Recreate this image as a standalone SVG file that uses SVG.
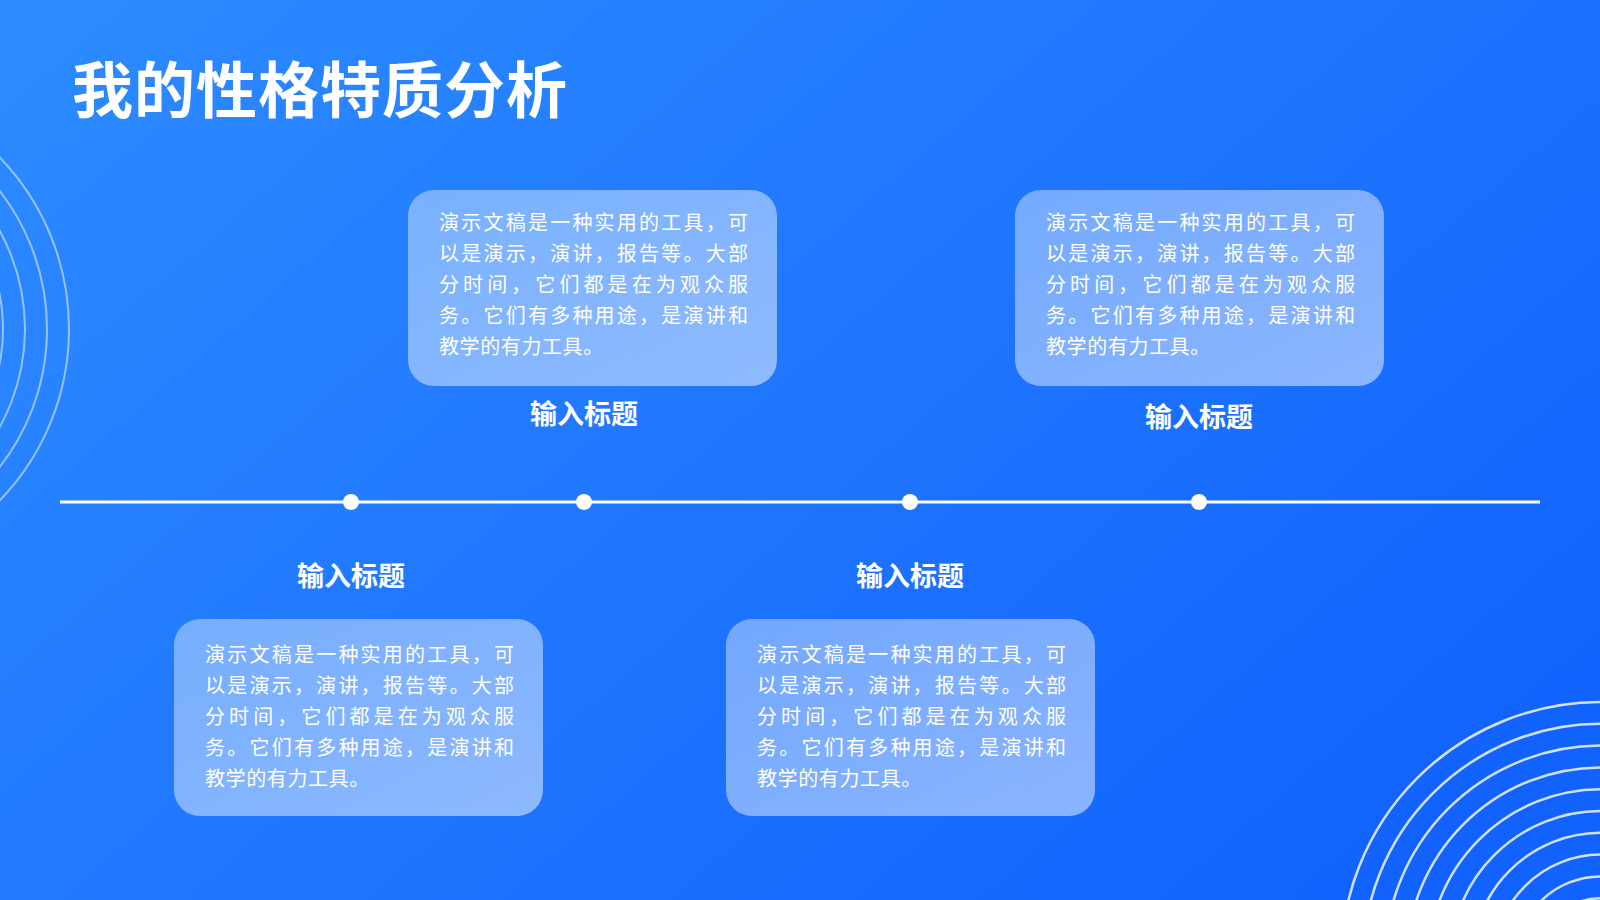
<svg xmlns="http://www.w3.org/2000/svg" width="1600" height="900" viewBox="0 0 1600 900">
  <defs>
    <linearGradient id="bg" x1="0" y1="0.1" x2="1" y2="0.75">
      <stop offset="0" stop-color="#2c8aff"/>
      <stop offset="1" stop-color="#1263fd"/>
    </linearGradient>
    <linearGradient id="card" x1="0" y1="0" x2="1" y2="1">
      <stop offset="0" stop-color="#ffffff" stop-opacity="0.38"/>
      <stop offset="1" stop-color="#ffffff" stop-opacity="0.5"/>
    </linearGradient>
  </defs>
  <style>
    .card { fill: url(#card); }
    .body { font-family: "Noto Sans CJK SC", "Noto Sans", sans-serif; font-size: 20px; fill: #ffffff; }
    .label { font-family: "Noto Sans CJK SC", "Noto Sans", sans-serif; font-size: 27px; font-weight: 700; fill: #ffffff; text-anchor: middle; }
    .title { font-family: "Noto Sans CJK SC", "Noto Sans", sans-serif; font-size: 61px; font-weight: 700; fill: #ffffff; letter-spacing: 1px; }
    .dot { fill: #ffffff; }
    .arcL { fill: none; stroke: #ffffff; stroke-opacity: 0.5; stroke-width: 2; }
    .arcR { fill: none; stroke: #ffffff; stroke-opacity: 0.8; stroke-width: 2.5; }
    .timeline { stroke: #ffffff; stroke-width: 3; }
  </style>

  <rect x="0" y="0" width="1600" height="900" fill="url(#bg)"/>

  <g id="decor-left">
    <circle class="arcL" cx="-178" cy="329" r="247"/>
    <circle class="arcL" cx="-178" cy="329" r="225"/>
    <circle class="arcL" cx="-178" cy="329" r="203"/>
    <circle class="arcL" cx="-178" cy="329" r="181"/>
  </g>

  <g id="decor-right">
    <circle class="arcR" cx="1601" cy="962" r="260"/>
    <circle class="arcR" cx="1601" cy="962" r="238.2"/>
    <circle class="arcR" cx="1601" cy="962" r="216.4"/>
    <circle class="arcR" cx="1601" cy="962" r="194.6"/>
    <circle class="arcR" cx="1601" cy="962" r="172.8"/>
    <circle class="arcR" cx="1601" cy="962" r="151"/>
    <circle class="arcR" cx="1601" cy="962" r="129.2"/>
    <circle class="arcR" cx="1601" cy="962" r="107.4"/>
    <circle class="arcR" cx="1601" cy="962" r="85.6"/>
    <circle class="arcR" cx="1601" cy="962" r="63.8"/>
  </g>

  <text id="title" class="title" x="72" y="113">我的性格特质分析</text>

  <g id="connectors">
    <line class="timeline" x1="60" y1="502" x2="1540" y2="502"/>
  </g>

  <g id="node-1">
    <circle class="dot" cx="351" cy="502" r="8"/>
    <text class="label" x="351" y="586">输入标题</text>
    <rect class="card" x="174" y="619" width="369" height="197" rx="26"/>
    <text class="body" x="205" y="662" textLength="309" lengthAdjust="spacing">演示文稿是一种实用的工具，可</text>
    <text class="body" x="205" y="693" textLength="309" lengthAdjust="spacing">以是演示，演讲，报告等。大部</text>
    <text class="body" x="205" y="724" textLength="309" lengthAdjust="spacing">分时间，它们都是在为观众服</text>
    <text class="body" x="205" y="755" textLength="309" lengthAdjust="spacing">务。它们有多种用途，是演讲和</text>
    <text class="body" x="205" y="786" letter-spacing="0.6">教学的有力工具。</text>
  </g>

  <g id="node-2">
    <circle class="dot" cx="584" cy="502" r="8"/>
    <text class="label" x="584" y="424">输入标题</text>
    <rect class="card" x="408" y="190" width="369" height="196" rx="26"/>
    <text class="body" x="439" y="230" textLength="309" lengthAdjust="spacing">演示文稿是一种实用的工具，可</text>
    <text class="body" x="439" y="261" textLength="309" lengthAdjust="spacing">以是演示，演讲，报告等。大部</text>
    <text class="body" x="439" y="292" textLength="309" lengthAdjust="spacing">分时间，它们都是在为观众服</text>
    <text class="body" x="439" y="323" textLength="309" lengthAdjust="spacing">务。它们有多种用途，是演讲和</text>
    <text class="body" x="439" y="354" letter-spacing="0.6">教学的有力工具。</text>
  </g>

  <g id="node-3">
    <circle class="dot" cx="910" cy="502" r="8"/>
    <text class="label" x="910" y="586">输入标题</text>
    <rect class="card" x="726" y="619" width="369" height="197" rx="26"/>
    <text class="body" x="757" y="662" textLength="309" lengthAdjust="spacing">演示文稿是一种实用的工具，可</text>
    <text class="body" x="757" y="693" textLength="309" lengthAdjust="spacing">以是演示，演讲，报告等。大部</text>
    <text class="body" x="757" y="724" textLength="309" lengthAdjust="spacing">分时间，它们都是在为观众服</text>
    <text class="body" x="757" y="755" textLength="309" lengthAdjust="spacing">务。它们有多种用途，是演讲和</text>
    <text class="body" x="757" y="786" letter-spacing="0.6">教学的有力工具。</text>
  </g>

  <g id="node-4">
    <circle class="dot" cx="1199" cy="502" r="8"/>
    <text class="label" x="1199" y="427">输入标题</text>
    <rect class="card" x="1015" y="190" width="369" height="196" rx="26"/>
    <text class="body" x="1046" y="230" textLength="309" lengthAdjust="spacing">演示文稿是一种实用的工具，可</text>
    <text class="body" x="1046" y="261" textLength="309" lengthAdjust="spacing">以是演示，演讲，报告等。大部</text>
    <text class="body" x="1046" y="292" textLength="309" lengthAdjust="spacing">分时间，它们都是在为观众服</text>
    <text class="body" x="1046" y="323" textLength="309" lengthAdjust="spacing">务。它们有多种用途，是演讲和</text>
    <text class="body" x="1046" y="354" letter-spacing="0.6">教学的有力工具。</text>
  </g>
</svg>
